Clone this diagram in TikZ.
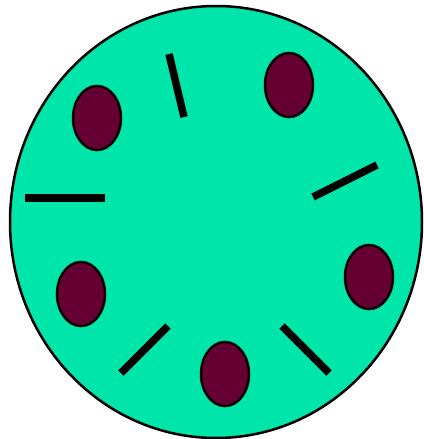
\documentclass[tikz,border=0pt]{standalone}
\definecolor{mint}{RGB}{0,229,170}
\definecolor{plum}{RGB}{102,0,51}
\begin{document}
\begin{tikzpicture}[x=1pt,y=-1pt,
  dish/.style={draw=black,line width=2.5pt,fill=mint},
  spot/.style={draw=black,line width=2.5pt,fill=plum},
  bar/.style={line width=7.5pt,line cap=butt}]
\useasboundingbox (0,0) rectangle (423,439);
\draw[dish] (216,222) ellipse [x radius=206, y radius=216];
\draw[spot] (97,118) ellipse [x radius=24, y radius=32];
\draw[spot] (289,85) ellipse [x radius=24, y radius=32];
\draw[spot] (369,277) ellipse [x radius=24, y radius=32];
\draw[spot] (81,294) ellipse [x radius=24, y radius=32];
\draw[spot] (225,374) ellipse [x radius=24, y radius=32];
\coordinate (a1) at (169,54); \coordinate (a2) at (184,117);
\coordinate (b1) at (25,198); \coordinate (b2) at (105,198);
\coordinate (c1) at (313,197); \coordinate (c2) at (377,165);
\coordinate (d1) at (121,373); \coordinate (d2) at (168,326);
\coordinate (e1) at (282,326); \coordinate (e2) at (329,373);
\draw[bar] (a1) -- (a2);
\draw[bar] (b1) -- (b2);
\draw[bar] (c1) -- (c2);
\draw[bar] (d1) -- (d2);
\draw[bar] (e1) -- (e2);
\end{tikzpicture}
\end{document}
